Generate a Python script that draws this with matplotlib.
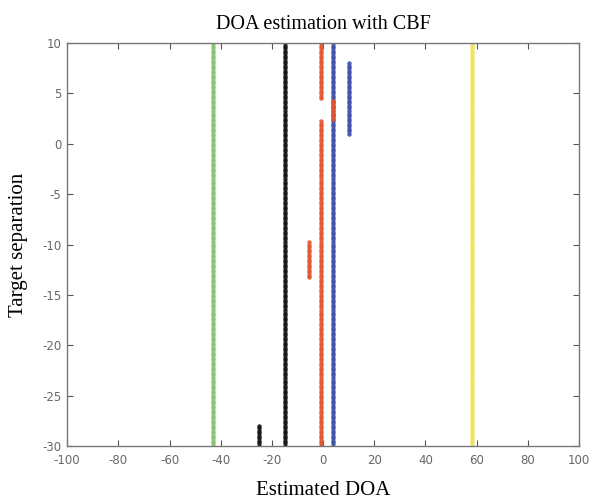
import numpy as np
import matplotlib
matplotlib.use("Agg")
import matplotlib.pyplot as plt

plt.rcParams["axes.unicode_minus"] = False

# Swept target separation (degrees)
sep_start, sep_stop, sep_step = -30.0, 10.0, 0.25
separation = np.round(np.arange(sep_start, sep_stop + sep_step / 2, sep_step), 4)

# CBF DOA estimates: (estimated DOA, separation from, separation to)
green_est = [(-43.0, -30.0, 10.0)]
black_est = [(-15.0, -30.0, 10.0), (-25.0, -30.0, -28.0)]
blue_est = [(4.0, -30.0, 10.0), (10.0, 1.0, 8.0)]
red_est = [(-1.0, -30.0, 2.25), (-1.0, 4.5, 10.0), (4.0, 2.5, 4.25), (-5.5, -13.25, -9.75)]
yellow_est = [(58.0, -30.0, 10.0)]

series = [
    (green_est, "#86c46e"),
    (yellow_est, "#eee45a"),
    (black_est, "#111111"),
    (blue_est, "#3c4ea6"),
    (red_est, "#e4532f"),
]

x_ticks = list(range(-100, 101, 20))
y_ticks = list(range(-30, 11, 5))

fig = plt.figure(figsize=(5.89, 5.0), dpi=100)
ax = fig.add_axes([0.114, 0.108, 0.869, 0.806])

for segments, color in series:
    for doa, lo, hi in segments:
        ys = separation[(separation >= lo) & (separation <= hi)]
        xs = np.full_like(ys, doa)
        ax.plot(xs, ys, linestyle="none", marker="o", markersize=3.2,
                markeredgewidth=0, color=color, alpha=0.9)

ax.set_xlim(-100, 100)
ax.set_ylim(-30, 10)
ax.set_xticks(x_ticks)
ax.set_yticks(y_ticks)
ax.tick_params(direction="in", top=True, right=True, length=4, width=0.8,
               colors="#555555", labelsize=8.5)
ax.tick_params(axis="x", pad=6)
ax.tick_params(axis="y", pad=4)
for t in ax.get_xticklabels() + ax.get_yticklabels():
    t.set_color("#666666")
for s in ax.spines.values():
    s.set_color("#777777")
    s.set_linewidth(1.0)

serif = ["Liberation Serif", "DejaVu Serif"]
ax.set_title("DOA estimation with CBF", family=serif, fontsize=14.5, pad=10)
ax.set_xlabel("Estimated DOA", family=serif, fontsize=15, labelpad=10)
ax.set_ylabel("Target separation", family=serif, fontsize=15, labelpad=10)

fig.savefig("out.png", dpi=100)
